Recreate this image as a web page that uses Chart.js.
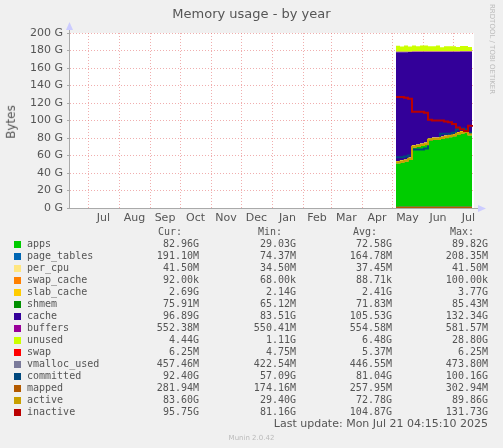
<!DOCTYPE html>
<html><head><meta charset="utf-8">
<script src="https://cdn.jsdelivr.net/npm/chart.js@4"></script>
<style>
body{margin:0;background:#F0F0F0;width:503px;height:448px;overflow:hidden;position:relative;font-family:"DejaVu Sans";}
#c{position:absolute;left:0;top:0}
.t{position:absolute;color:#555;white-space:pre;font-family:"DejaVu Sans Mono";font-size:10px;line-height:12px}
</style></head><body>
<canvas id="c" width="503" height="448"></canvas>
<div id="leg"></div>
<script>
const days=[308,312,316,320,324,328,332,336,340,344,348,352,356,360,364,368,372,376,380,384];
const apps=[51,52,53,55,69,70,71,72,77,78,78,79,80,81,82,84,85,86,83,83];
const pageTables=[0.08,0.1,0.12,0.14,0.16,0.17,0.17,0.18,0.18,0.18,0.19,0.19,0.19,0.19,0.19,0.2,0.2,0.2,0.19,0.19];
const perCpu=[0.035,0.035,0.035,0.035,0.037,0.037,0.037,0.037,0.037,0.037,0.037,0.037,0.037,0.04,0.04,0.04,0.04,0.04,0.04,0.04];
const swapCache=[0.0001,0.0001,0.0001,0.0001,0.0001,0.0001,0.0001,0.0001,0.0001,0.0001,0.0001,0.0001,0.0001,0.0001,0.0001,0.0001,0.0001,0.0001,0.0001,0.0001];
const slabCache=[2.2,2.3,2.3,2.4,2.4,2.4,2.4,2.5,2.4,2.4,2.4,2.5,2.5,2.5,2.4,2.6,2.7,2.7,2.7,2.7];
const shmem=[0.07,0.07,0.07,0.07,0.07,0.07,0.07,0.07,0.07,0.07,0.07,0.07,0.07,0.07,0.07,0.08,0.08,0.08,0.08,0.08];
const cache=[124.5,123.5,122.5,120.5,106.5,105.5,104.5,103.5,98.5,97.5,97.5,96.5,95.5,94.5,93.5,91.5,90.5,89.5,92.5,92.5];
const buffers=[0.55,0.55,0.55,0.55,0.55,0.55,0.55,0.55,0.55,0.55,0.55,0.55,0.55,0.55,0.55,0.55,0.55,0.55,0.55,0.55];
const unused=[7,6,7,6,7,6,7,7,6,6,7,5,6,6,6,5,6,6,5,6];
const swap=[0.005,0.005,0.005,0.005,0.005,0.005,0.005,0.005,0.005,0.005,0.005,0.005,0.005,0.006,0.006,0.006,0.006,0.006,0.006,0.006];
const vmalloc=[0.42,0.43,0.43,0.44,0.44,0.44,0.45,0.45,0.45,0.45,0.45,0.45,0.45,0.45,0.46,0.46,0.46,0.46,0.46,0.46];
const committed=[58,58,59,60,67,67,67,68,78,79,79,85,85,85,86,90,91,90,86,86];
const mapped=[0.18,0.2,0.22,0.24,0.25,0.26,0.26,0.26,0.27,0.27,0.27,0.27,0.27,0.28,0.28,0.28,0.28,0.28,0.28,0.28];
const active=[52,53,54,56,70,71,72,73,78,79,79,80,81,82,83,85,86,87,84,84];
const inactive=[127,127,126,125,110,110,110,109,101,100,100,100,99,98,96,92,90,88,94,95];
const monthStarts=[0,31,62,92,123,153,184,215,243,274,304,335,365];
const monthLabels=["Jul","Aug","Sep","Oct","Nov","Dec","Jan","Feb","Mar","Apr","May","Jun","Jul"];
const yTicks=[0,20,40,60,80,100,120,140,160,180,200];

const areas=[["apps",apps,"#00CC00"],["page_tables",pageTables,"#0066B3"],["per_cpu",perCpu,"#FFE680"],["swap_cache",swapCache,"#FF8000"],["slab_cache",slabCache,"#FFCC00"],["shmem",shmem,"#008F00"],["cache",cache,"#330099"],["buffers",buffers,"#990099"],["unused",unused,"#CCFF00"]];
const lines=[["swap",swap,"#FF0000"],["vmalloc_used",vmalloc,"#7A7A9A"],["committed",committed,"#00487D"],["mapped",mapped,"#B35A00"],["active",active,"#C8A000"],["inactive",inactive,"#BA0000"]];
const stats=[["82.96G","29.03G","72.58G","89.82G"],["191.10M","74.37M","164.78M","208.35M"],["41.50M","34.50M","37.45M","41.50M"],["92.00k","68.00k","88.71k","100.00k"],["2.69G","2.14G","2.41G","3.77G"],["75.91M","65.12M","71.83M","85.43M"],["96.89G","83.51G","105.53G","132.34G"],["552.38M","550.41M","554.58M","581.57M"],["4.44G","1.11G","6.48G","28.80G"],["6.25M","4.75M","5.37M","6.25M"],["457.46M","422.54M","446.55M","473.80M"],["92.40G","57.09G","81.04G","100.16G"],["281.94M","174.16M","257.95M","302.94M"],["83.60G","29.40G","72.78G","89.86G"],["95.75G","81.16G","104.87G","131.73G"]];

const ds=[];
areas.forEach((a,i)=>ds.push({label:a[0],data:days.map((d,j)=>({x:d,y:a[1][j]})),backgroundColor:a[2],borderColor:a[2],borderWidth:0,fill:i==0?'origin':'-1',stack:'a',order:10,pointRadius:0,stepped:true}));
lines.forEach((a,i)=>ds.push({label:a[0],data:days.map((d,j)=>({x:d,y:a[1][j]})),borderColor:a[2],borderWidth:2,fill:false,stack:'l'+i,order:5-i,pointRadius:0,stepped:true}));

const deco={id:'deco',beforeDraw(c){const a=c.chartArea,x=c.ctx;x.save();x.fillStyle='#fff';x.fillRect(a.left,a.top,a.right-a.left,a.bottom-a.top);x.restore();},
afterDraw(c){const x=c.ctx,a=c.chartArea,s=c.scales.x;x.save();x.fillStyle='#555';x.font='11px "DejaVu Sans"';x.textAlign='center';x.textBaseline='top';
for(let i=0;i<monthStarts.length;i++){const e=i+1<monthStarts.length?monthStarts[i+1]:396;const m=s.getPixelForValue((monthStarts[i]+e)/2);x.fillText(monthLabels[i],m,a.bottom+5);}
x.strokeStyle='#aaa';x.lineWidth=1;x.beginPath();x.moveTo(a.left,a.bottom+0.5);x.lineTo(a.right+6,a.bottom+0.5);x.moveTo(a.left-0.5,a.bottom);x.lineTo(a.left-0.5,a.top-6);x.stroke();
x.fillStyle='#ccccff';x.beginPath();x.moveTo(a.right+12,a.bottom+0.5);x.lineTo(a.right+4,a.bottom-3);x.lineTo(a.right+4,a.bottom+4);x.fill();
x.beginPath();x.moveTo(a.left-0.5,a.top-11);x.lineTo(a.left-4,a.top-3);x.lineTo(a.left+3,a.top-3);x.fill();
x.restore();}};

new Chart(document.getElementById('c'),{type:'line',data:{datasets:ds},plugins:[deco],
options:{responsive:false,animation:false,events:[],layout:{padding:{top:33,left:0,right:29,bottom:220}},
plugins:{legend:{display:false},tooltip:{enabled:false}},
scales:{x:{type:'linear',min:-18,max:386,afterBuildTicks:s=>{s.ticks=monthStarts.map(v=>({value:v}));},ticks:{display:false},grid:{color:'rgba(230,120,120,0.6)',drawTicks:false},border:{display:false,dash:[1,2]},afterFit:s=>{s.height=20;}},
y:{stacked:true,min:0,max:200,afterBuildTicks:s=>{s.ticks=yTicks.map(v=>({value:v}));},ticks:{color:'#555',font:{family:'DejaVu Sans',size:11},padding:4,callback:v=>v+' G'},grid:{color:'rgba(230,120,120,0.6)',drawTicks:true,tickLength:3,tickColor:'#aaa'},border:{display:false,dash:[1,2]},afterFit:s=>{s.width=70;}}}}});

let h='';
function t(txt,l,tp,st){h+=`<div class="t" style="left:${l}px;top:${tp}px;${st||''}">${txt}</div>`;}
function r(txt,right,tp,st){h+=`<div class="t" style="right:${503-right}px;top:${tp}px;text-align:right;${st||''}">${txt}</div>`;}
h+=`<div class="t" style="left:0;width:503px;top:6px;text-align:center;font-family:'DejaVu Sans';font-size:13px;line-height:16px">Memory usage - by year</div>`;
h+=`<div class="t" style="left:-6px;top:115px;font-family:'DejaVu Sans';font-size:12px;line-height:14px;color:#555;transform:rotate(-90deg)">Bytes</div>`;
h+=`<div class="t" style="font-family:'DejaVu Sans';font-size:7px;color:#bbb;transform:rotate(90deg);transform-origin:left top;left:498px;top:4px">RRDTOOL / TOBI OETIKER</div>`;
r("Cur:",182,226);r("Min:",282,226);r("Avg:",377,226);r("Max:",474,226);
const all=areas.concat(lines);
all.forEach((a,i)=>{const y=238+i*12;h+=`<div style="position:absolute;left:14px;top:${y+3}px;width:7px;height:7px;background:${a[2]}"></div>`;t(a[0],27,y);
r(stats[i][0],199,y);r(stats[i][1],296,y);r(stats[i][2],392,y);r(stats[i][3],488,y);});
r("Last update: Mon Jul 21 04:15:10 2025",488,418,"font-family:'DejaVu Sans';font-size:11px");
h+=`<div class="t" style="left:0;width:503px;top:432px;text-align:center;font-family:'DejaVu Sans';font-size:7px;color:#bbb">Munin 2.0.42</div>`;
document.getElementById('leg').innerHTML=h;
</script></body></html>
